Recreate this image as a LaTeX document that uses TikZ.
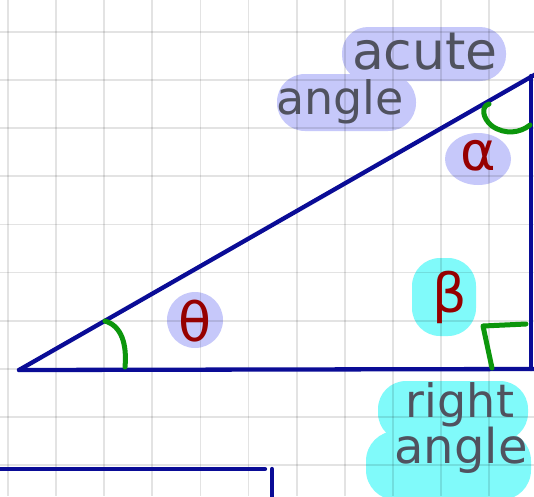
\documentclass[tikz,border=0pt]{standalone}
\usepackage{fontspec}
\setmainfont{DejaVu Sans}
\definecolor{gridc}{RGB}{0,0,0}
\definecolor{navy}{RGB}{10,12,150}
\definecolor{greenc}{RGB}{12,150,12}
\definecolor{redc}{RGB}{150,0,0}
\definecolor{inkc}{RGB}{80,82,95}
\definecolor{lav}{RGB}{198,200,250}
\definecolor{cyanb}{RGB}{128,250,250}
\tikzset{
  edge/.style={draw=navy, line width=4.3pt, line cap=round, line join=round},
  anglemark/.style={draw=greenc, line width=5pt, line cap=round, line join=round},
  word/.style={text=inkc, inner sep=0pt},
  greek/.style={text=redc, inner sep=0pt, font=\fontsize{54}{54}\selectfont},
}
\begin{document}
\begin{tikzpicture}[x=1pt,y=-1pt]
\useasboundingbox (0,0) rectangle (534,496);
\fill[white] (0,0) rectangle (534,496);
% highlight blobs
\fill[lav, rounded corners=26pt] (342,27) rectangle (506,81);
\fill[lav, rounded corners=28pt] (277,74) rectangle (416,131);
\fill[lav] (478,159) ellipse[x radius=33pt, y radius=26pt];
\fill[lav] (195,320) circle[radius=28pt];
\fill[cyanb, rounded corners=28pt] (412,258) rectangle (476,336);
\fill[cyanb, rounded corners=28pt] (378,381) rectangle (528,441);
\fill[cyanb, rounded corners=30pt] (366,431) rectangle (531,500);
% grid
\foreach \i in {0,...,11} \draw[gridc, opacity=0.11, line width=1.8pt] ({8+48.1*\i},0) -- ({8+48.1*\i},496);
\foreach \j in {0,...,9} \draw[gridc, opacity=0.11, line width=1.8pt] (0,{32+48.1*\j}) -- (534,{32+48.1*\j});
% triangle
\coordinate (A) at (19,370);
\coordinate (B) at (531,369);
\coordinate (C) at (531,76);
\coordinate (Bend) at (536,369);
\coordinate (Cend) at (536,74);
\draw[edge] (A) -- (Bend);
\draw[edge] (B) -- (C);
\draw[edge] (A) -- (Cend);
% lower partial figure
\coordinate (P) at (-2,469);
\coordinate (Q) at (265,469);
\coordinate (R) at (272,469);
\coordinate (S) at (272,498);
\draw[edge] (P) -- (Q);
\draw[edge] (R) -- (S);
% angle marks
\draw[anglemark] (105,321) .. controls (122,326) and (127,345) .. (125,367);
\draw[anglemark] (489,104) .. controls (481,106) and (482,118) .. (492,126) .. controls (505,135) and (520,133) .. (530,125);
\draw[anglemark] (526,324) -- (483,326) -- (492,368);
% labels
\node[word, font=\fontsize{52}{52}\selectfont] (acute) at (425,52) {acute};
\node[word, font=\fontsize{46}{46}\selectfont] (angle1) at (340,102) {angle};
\node[greek] (alpha) at (478,156) {α};
\node[greek] (theta) at (195,321) {θ};
\node[greek] (beta) at (450,297) {β};
\node[word, font=\fontsize{46}{46}\selectfont] (right) at (460,405) {right};
\node[word, font=\fontsize{48}{48}\selectfont] (angle2) at (461,450) {angle};
\end{tikzpicture}
\end{document}
